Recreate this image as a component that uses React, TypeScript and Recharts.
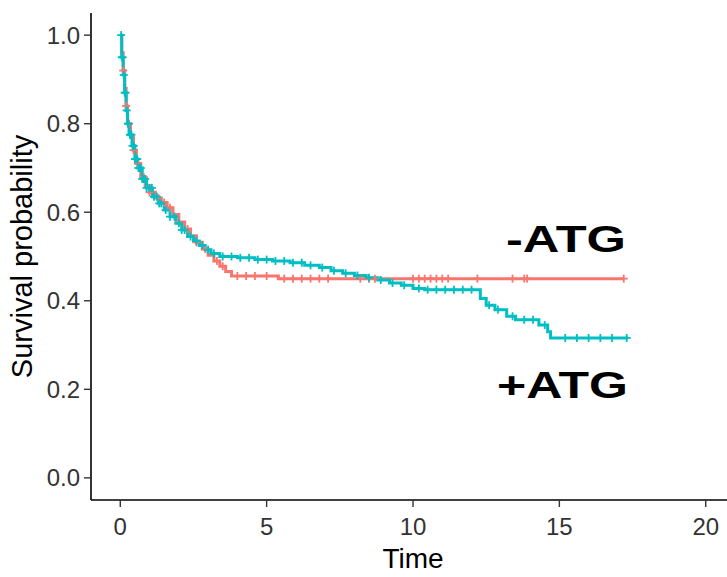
import React from 'react';
import {
  ComposedChart,
  Line,
  Scatter,
  XAxis,
  YAxis,
  Customized
} from 'recharts';

// -ATG group (red): Kaplan-Meier step points
const noAtgTimes = [0, 0.05, 0.1, 0.15, 0.2, 0.25, 0.35, 0.45, 0.55, 0.7, 0.85, 1.0, 1.2, 1.4, 1.6, 1.8, 2.0, 2.2, 2.4, 2.6, 2.8, 3.0, 3.2, 3.4, 3.6, 3.8, 5.4, 17.2];
const noAtgSurv = [1.0, 0.96, 0.92, 0.88, 0.84, 0.8, 0.77, 0.74, 0.71, 0.68, 0.66, 0.645, 0.632, 0.622, 0.61, 0.595, 0.578, 0.562, 0.547, 0.532, 0.517, 0.503, 0.49, 0.478, 0.466, 0.456, 0.45, 0.45];
const noAtgCensor = [0.1, 0.2, 0.3, 0.45, 0.6, 0.8, 1.0, 1.3, 1.5, 1.7, 2.0, 2.3, 2.6, 2.9, 3.3, 3.5, 4.0, 4.3, 4.6, 5.0, 5.6, 5.9, 6.2, 6.5, 6.8, 7.1, 8.2, 8.5, 8.7, 10.0, 10.2, 10.4, 10.6, 10.8, 11.0, 11.2, 12.2, 13.4, 13.8, 13.9, 17.2];

// +ATG group (teal)
const atgTimes = [0, 0.05, 0.1, 0.15, 0.2, 0.25, 0.3, 0.4, 0.5, 0.6, 0.75, 0.9, 1.1, 1.3, 1.5, 1.7, 1.9, 2.1, 2.3, 2.5, 2.7, 2.9, 3.1, 3.4, 4.0, 4.6, 5.2, 5.8, 6.3, 6.8, 7.2, 7.6, 8.0, 8.4, 8.8, 9.2, 9.6, 10.0, 10.4, 12.3, 12.5, 12.8, 13.2, 13.5, 14.3, 14.6, 14.7, 17.35];
const atgSurv = [1.0, 0.95, 0.91, 0.87, 0.83, 0.8, 0.775, 0.75, 0.72, 0.7, 0.675, 0.655, 0.635, 0.62, 0.605, 0.59, 0.575, 0.56, 0.545, 0.535, 0.525, 0.515, 0.507, 0.5, 0.497, 0.493, 0.49, 0.486, 0.48, 0.475, 0.468, 0.462, 0.457, 0.452, 0.447, 0.44, 0.435, 0.428, 0.425, 0.405, 0.39, 0.38, 0.365, 0.357, 0.345, 0.33, 0.316, 0.316];
const atgCensor = [0.03, 0.05, 0.08, 0.12, 0.15, 0.18, 0.22, 0.26, 0.28, 0.33, 0.36, 0.38, 0.42, 0.46, 0.5, 0.55, 0.58, 0.62, 0.66, 0.7, 0.75, 0.8, 0.85, 0.9, 1.0, 1.08, 1.15, 1.25, 1.33, 1.4, 1.55, 1.7, 1.85, 2.0, 2.1, 2.2, 2.4, 2.6, 2.8, 3.0, 3.2, 3.5, 3.8, 4.1, 4.4, 4.7, 5.0, 5.3, 5.6, 5.9, 6.2, 6.5, 6.9, 7.3, 7.7, 8.1, 8.5, 8.9, 9.3, 9.7, 10.2, 10.5, 10.8, 11.1, 11.4, 11.7, 12.0, 12.6, 12.9, 13.4, 13.8, 14.1, 14.5, 15.2, 15.6, 16.0, 16.4, 16.8, 17.3];

const xTicks = [0, 5, 10, 15, 20];
const yTicks = [0, 0.2, 0.4, 0.6, 0.8, 1.0];

const RED = '#F8766D';
const TEAL = '#00BFC4';
const FONT = '"Liberation Sans", Arial, sans-serif';

const toSteps = (times: number[], surv: number[]) =>
  times.map((t, i) => ({ t, s: surv[i] }));

const survAt = (times: number[], surv: number[], t: number) => {
  let s = surv[0];
  for (let i = 0; i < times.length; i++) {
    if (times[i] <= t) s = surv[i];
  }
  return s;
};

const toCensor = (censor: number[], times: number[], surv: number[]) =>
  censor.map(t => ({ t, s: survAt(times, surv, t) }));

const noAtgData = toSteps(noAtgTimes, noAtgSurv);
const atgData = toSteps(atgTimes, atgSurv);
const noAtgMarks = toCensor(noAtgCensor, noAtgTimes, noAtgSurv);
const atgMarks = toCensor(atgCensor, atgTimes, atgSurv);

const plusShape = (color: string) => (props: any) => {
  const { cx, cy } = props;
  return (
    <g stroke={color} strokeWidth={1.8}>
      <line x1={cx - 4} y1={cy} x2={cx + 4} y2={cy} />
      <line x1={cx} y1={cy - 4} x2={cx} y2={cy + 4} />
    </g>
  );
};

const GroupLabels = () => (
  <g fontFamily={FONT} fontWeight="bold" fontSize={37} fill="#000">
    <text x={506} y={252} textLength={120} lengthAdjust="spacingAndGlyphs">-ATG</text>
    <text x={497} y={398} textLength={131} lengthAdjust="spacingAndGlyphs">+ATG</text>
  </g>
);

const YTitle = (props: any) => {
  const { viewBox } = props;
  const cy = viewBox.y + viewBox.height / 2;
  return (
    <text
      x={32}
      y={cy}
      transform={`rotate(-90, 32, ${cy})`}
      textAnchor="middle"
      fontFamily={FONT}
      fontSize={29}
      fill="#000"
    >
      Survival probability
    </text>
  );
};

const XTitle = (props: any) => {
  const { viewBox } = props;
  return (
    <text
      x={viewBox.x + viewBox.width / 2}
      y={568}
      textAnchor="middle"
      fontFamily={FONT}
      fontSize={28}
      fill="#000"
    >
      Time
    </text>
  );
};

const tickStyle = { fontSize: 24, fontFamily: FONT, fill: '#333' };

export default function App() {
  return (
    <div style={{ position: 'absolute', left: 0, top: 0, width: 727, height: 577, overflow: 'hidden', background: '#fff' }}>
      <ComposedChart width={745} height={577} margin={{ top: 13, right: 10, left: 0, bottom: 0 }}>
        <XAxis
          dataKey="t"
          type="number"
          domain={[-1, 21]}
          ticks={xTicks}
          allowDataOverflow
          height={77}
          tick={tickStyle}
          tickSize={7}
          tickMargin={11}
          axisLine={{ stroke: '#000', strokeWidth: 1.6 }}
          tickLine={{ stroke: '#333', strokeWidth: 1.4 }}
          label={{ content: XTitle }}
        />
        <YAxis
          dataKey="s"
          type="number"
          domain={[-0.05, 1.05]}
          ticks={yTicks}
          allowDataOverflow
          width={91}
          tick={tickStyle}
          tickSize={7}
          tickMargin={4}
          tickFormatter={(v: number) => v.toFixed(1)}
          axisLine={{ stroke: '#000', strokeWidth: 1.6 }}
          tickLine={{ stroke: '#333', strokeWidth: 1.4 }}
          label={{ content: YTitle }}
        />
        <Line data={noAtgData} dataKey="s" type="stepAfter" stroke={RED} strokeWidth={3} dot={false} isAnimationActive={false} />
        <Scatter data={noAtgMarks} dataKey="s" shape={plusShape(RED)} isAnimationActive={false} />
        <Line data={atgData} dataKey="s" type="stepAfter" stroke={TEAL} strokeWidth={3} dot={false} isAnimationActive={false} />
        <Scatter data={atgMarks} dataKey="s" shape={plusShape(TEAL)} isAnimationActive={false} />
        <Customized component={GroupLabels} />
      </ComposedChart>
    </div>
  );
}
